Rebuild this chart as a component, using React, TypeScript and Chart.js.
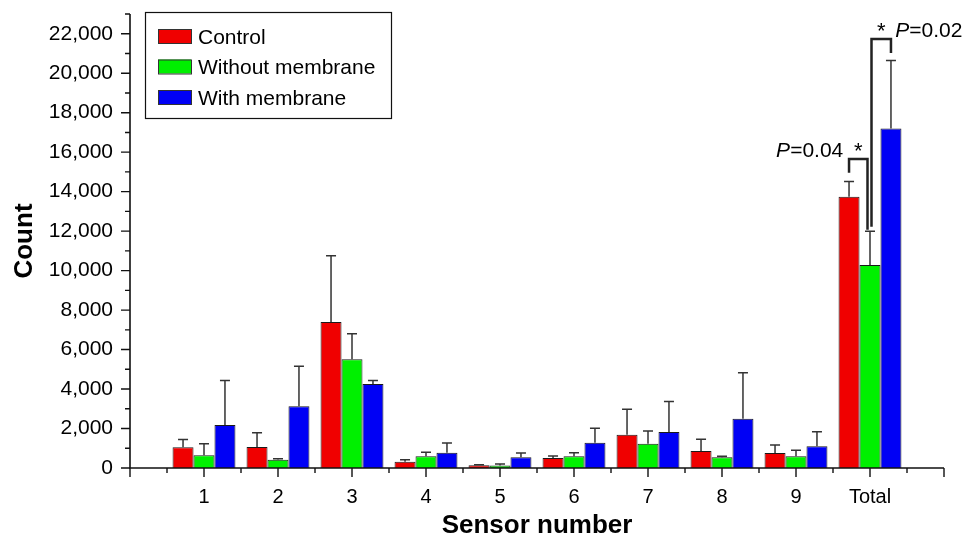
import React, { useEffect, useRef } from 'react';
import { Chart, registerables } from 'chart.js';

Chart.register(...registerables);

// ---- data ----
const categories = ['1', '2', '3', '4', '5', '6', '7', '8', '9', 'Total'];
const controlMeans = [1050, 1065, 7400, 320, 135, 507, 1690, 862, 760, 13740];
const controlErrors = [400, 725, 3350, 100, 30, 100, 1285, 590, 400, 780];
const withoutMeans = [644, 421, 5510, 593, 130, 593, 1232, 542, 593, 10290];
const withoutErrors = [590, 50, 1290, 200, 70, 180, 640, 50, 300, 1700];
const withMeans = [2180, 3128, 4260, 776, 542, 1283, 1825, 2500, 1100, 17200];
const withErrors = [2250, 2030, 170, 490, 220, 730, 1540, 2320, 740, 3450];
const seriesNames = ['Control', 'Without membrane', 'With membrane'];
const seriesColors = ['#f00000', '#00f000', '#0000f5'];
const yMin = 0;
const yMax = 23000;
const yStep = 1000;
const yLabelStep = 2000;

// significance brackets at the "Total" group (dataset indices, values in counts)
const significance = [
  { from: 0, to: 1, top: 15650, fromEnd: 14960, toEnd: 12070, italic: 'P', rest: '=0.04', side: 'left', fromShift: 0, toShift: -2.5 },
  { from: 1, to: 2, top: 21735, fromEnd: 12220, toEnd: 21025, italic: 'P', rest: '=0.02', side: 'right', fromShift: 1.5, toShift: 0 },
];

const FONT = '"Liberation Sans", Arial, Helvetica, sans-serif';

const pad = (arr: (number | null)[]) => [null, ...arr, null];

const decorPlugin = {
  id: 'decor',
  afterDatasetsDraw(chart: any) {
    const ctx = chart.ctx;
    const xs = chart.scales.x;
    const ys = chart.scales.y;
    const area = chart.chartArea;
    ctx.save();
    // error bars
    chart.data.datasets.forEach((ds: any, di: number) => {
      const meta = chart.getDatasetMeta(di);
      meta.data.forEach((el: any, i: number) => {
        const v = ds.data[i];
        const e = ds.errors[i];
        if (v == null || e == null) return;
        const x = el.x;
        const y0 = ys.getPixelForValue(v);
        const y1 = ys.getPixelForValue(v + e);
        ctx.strokeStyle = '#333';
        ctx.lineWidth = 1.5;
        ctx.beginPath();
        ctx.moveTo(x, y0);
        ctx.lineTo(x, y1);
        ctx.moveTo(x - 5, y1);
        ctx.lineTo(x + 5, y1);
        ctx.stroke();
      });
    });

    // axes
    ctx.strokeStyle = '#111';
    ctx.lineWidth = 1.6;
    ctx.beginPath();
    ctx.moveTo(area.left, area.top);
    ctx.lineTo(area.left, area.bottom);
    ctx.lineTo(area.right, area.bottom);
    ctx.stroke();
    // y ticks
    ctx.lineWidth = 1.4;
    ctx.beginPath();
    for (let v = yMin; v <= yMax; v += yStep) {
      const y = ys.getPixelForValue(v);
      const len = v % yLabelStep === 0 ? 9 : 5;
      ctx.moveTo(area.left - len, y);
      ctx.lineTo(area.left, y);
    }
    // x ticks (major at categories, minor between)
    const n = categories.length + 1;
    for (let k = 0; k <= n * 2; k++) {
      const x = xs.getPixelForValue(k / 2);
      const len = k % 2 === 0 ? 9 : 5;
      ctx.moveTo(x, area.bottom);
      ctx.lineTo(x, area.bottom + len);
    }
    ctx.stroke();

    // significance brackets
    const totalIndex = categories.length; // padded index of "Total"
    significance.forEach((s) => {
      const xa = chart.getDatasetMeta(s.from).data[totalIndex].x + s.fromShift;
      const xb = chart.getDatasetMeta(s.to).data[totalIndex].x + s.toShift;
      const yt = ys.getPixelForValue(s.top);
      const ya = ys.getPixelForValue(s.fromEnd);
      const yb = ys.getPixelForValue(s.toEnd);
      ctx.strokeStyle = '#222';
      ctx.lineWidth = 2.5;
      ctx.lineJoin = 'miter';
      ctx.beginPath();
      ctx.moveTo(xa, ya);
      ctx.lineTo(xa, yt);
      ctx.lineTo(xb, yt);
      ctx.lineTo(xb, yb);
      ctx.stroke();
      const mid = (xa + xb) / 2;
      const base = yt - 2;
      ctx.fillStyle = '#000';
      ctx.textBaseline = 'alphabetic';
      ctx.font = `22px ${FONT}`;
      ctx.textAlign = 'center';
      ctx.fillText('*', mid, base + 1);
      const italicFont = `italic 21px ${FONT}`;
      const normalFont = `21px ${FONT}`;
      ctx.font = italicFont;
      const wI = ctx.measureText(s.italic).width;
      ctx.font = normalFont;
      const wR = ctx.measureText(s.rest).width;
      ctx.textAlign = 'left';
      let startX: number;
      if (s.side === 'left') {
        startX = mid - 15 - (wI + wR);
      } else {
        startX = mid + 14;
      }
      ctx.font = italicFont;
      ctx.fillText(s.italic, startX, base);
      ctx.font = normalFont;
      ctx.fillText(s.rest, startX + wI, base);
    });

    // legend
    const lx = 145, ly = 12, lw = 246, lh = 106;
    ctx.fillStyle = '#fff';
    ctx.fillRect(lx, ly, lw, lh);
    ctx.strokeStyle = '#111';
    ctx.lineWidth = 1.2;
    ctx.strokeRect(lx + 0.5, ly + 0.5, lw, lh);
    chart.data.datasets.forEach((ds: any, i: number) => {
      const cy = 36 + i * 30.5;
      ctx.fillStyle = ds.backgroundColor;
      ctx.fillRect(158, cy - 7, 33, 14);
      ctx.strokeStyle = '#333';
      ctx.lineWidth = 1;
      ctx.strokeRect(158.5, cy - 6.5, 33, 14);
      ctx.fillStyle = '#000';
      ctx.font = `21px ${FONT}`;
      ctx.textAlign = 'left';
      ctx.textBaseline = 'alphabetic';
      ctx.fillText(ds.label, 198, cy + 7.5);
    });
    ctx.restore();
  },
};

export default function App() {
  const ref = useRef<HTMLCanvasElement | null>(null);
  useEffect(() => {
    if (!ref.current) return;
    const meansList = [controlMeans, withoutMeans, withMeans];
    const errList = [controlErrors, withoutErrors, withErrors];
    const chart = new Chart(ref.current, {
      type: 'bar',
      data: {
        labels: ['', ...categories, ''],
        datasets: seriesNames.map((name, i) => ({
          label: name,
          data: pad(meansList[i]),
          errors: pad(errList[i]),
          backgroundColor: seriesColors[i],
          borderColor: '#1a1a1a',
          borderWidth: 1,
          categoryPercentage: 0.85,
          barPercentage: 1,
        })) as any,
      },
      options: {
        responsive: false,
        animation: false,
        layout: { padding: { top: 14, right: 22, left: 0, bottom: 0 } },
        plugins: { legend: { display: false }, tooltip: { enabled: false } },
        scales: {
          x: {
            type: 'category',
            offset: false,
            grid: { display: false, drawTicks: false },
            border: { display: false },
            ticks: {
              autoSkip: false,
              maxRotation: 0,
              minRotation: 0,
              padding: 17,
              color: '#000',
              font: { family: FONT, size: 20 },
            },
            title: {
              display: true,
              text: 'Sensor number',
              color: '#000',
              font: { family: FONT, size: 26, weight: 'bold', lineHeight: 1 },
              padding: { top: 0, bottom: 0 },
            },
            afterFit: (s: any) => {
              s.height = 71;
              s.paddingLeft = 0;
              s.paddingRight = 0;
            },
          },
          y: {
            min: yMin,
            max: yMax,
            grid: { display: false, drawTicks: false },
            border: { display: false },
            ticks: {
              stepSize: yStep,
              autoSkip: false,
              padding: 17,
              color: '#000',
              font: { family: FONT, size: 21 },
              callback: (v: any) => (Number(v) % yLabelStep === 0 ? Number(v).toLocaleString('en-US') : ''),
            },
            title: {
              display: true,
              text: 'Count',
              color: '#000',
              font: { family: FONT, size: 26, weight: 'bold', lineHeight: 1 },
              padding: { top: 12, bottom: 0 },
            },
            afterFit: (s: any) => {
              s.width = 130;
              s.paddingTop = 0;
              s.paddingBottom = 0;
            },
          },
        },
      } as any,
      plugins: [decorPlugin],
    });
    return () => chart.destroy();
  }, []);

  return (
    <div style={{ position: 'fixed', left: 0, top: 0, width: 966, height: 539, background: '#fff' }}>
      <canvas ref={ref} width={966} height={539} style={{ width: 966, height: 539, display: 'block' }} />
    </div>
  );
}
